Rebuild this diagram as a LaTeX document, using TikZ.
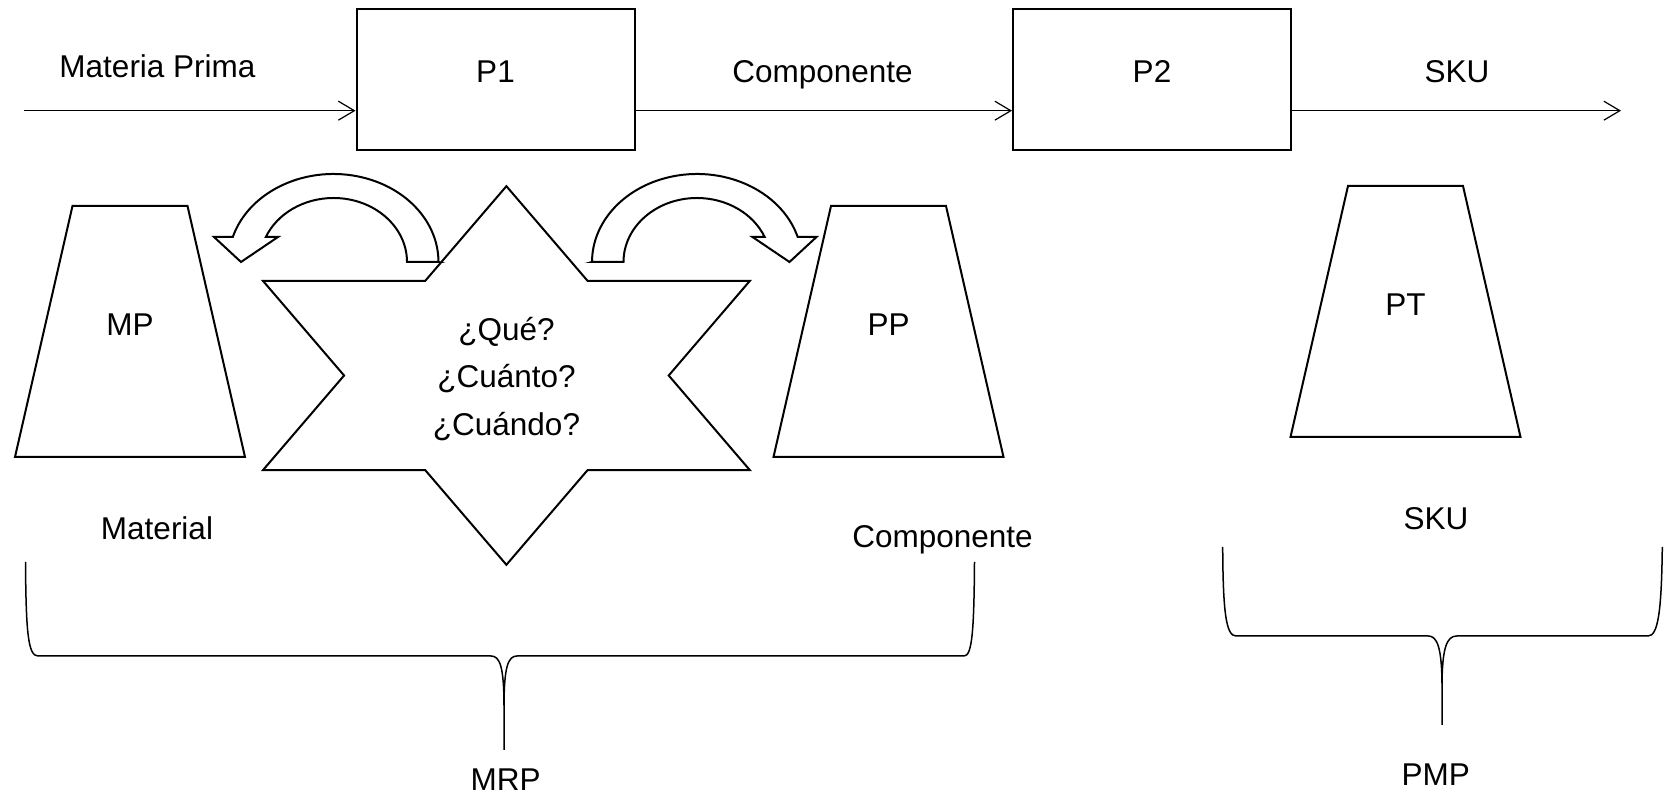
\documentclass[tikz,border=0pt]{standalone}
\usepackage{fontspec}
\setmainfont{Liberation Sans}
\usepackage{tikz}
\usetikzlibrary{arrows.meta, positioning}

\tikzset{
  proc/.style={draw, line width=2pt, minimum width=278pt, minimum height=141pt, text height=22.5pt, text depth=17pt},
  flow/.style={-{Straight Barb[length=16pt, width=19pt]}, line width=1.2pt},
  silo/.style={draw, line width=2pt},
  turn/.style={draw, line width=2pt, fill=white},
  brace/.style={draw, line width=1.5pt},
}

\begin{document}
\begin{tikzpicture}[x=1pt, y=1pt, font=\fontsize{31.5pt}{38pt}\selectfont,
  every node/.style={text height=22.5pt, text depth=0pt, inner sep=0pt}]

\fill[white] (0,0) rectangle (1668,797);
\useasboundingbox (0,0) rectangle (1668,797);

% nodes
\node[proc] (P1) at (495.5,717) {P1};
\node[proc] (P2) at (1152,717) {P2};
\coordinate (src) at (24,686.3);
\coordinate (dst) at (1621,686.3);

\node (mat) at (157.5,731) {Materia Prima};
\node (comp) at (822.5,726) {Componente};
\node (sku) at (1457,726) {SKU};

% arrows
\draw[flow] (src) -- (src -| P1.west);
\draw[flow] (src -| P1.east) -- (src -| P2.west);
\draw[flow] (src -| P2.east) -- (dst);

% stocks
\foreach \cx/\ty/\name in {130/591/MP, 888.5/591/PP, 1405.5/611/PT}{
  \draw[silo] (\cx-115,\ty-251) -- (\cx-57.5,\ty) -- (\cx+57.5,\ty) -- (\cx+115,\ty-251) -- cycle;
  \node (\name) at (\cx,\ty-118) {\name};
}
\node (matl) at (157,269) {Material};
\node (compl) at (942.5,261) {Componente};
\node (skul) at (1436,278.5) {SKU};

% star
\draw[silo, shift={(506.4,421.5)}, xscale=1.485]
  (90:189.3) -- (120:109.3) -- (150:189.3) -- (180:109.3) -- (210:189.3) -- (240:109.3)
  -- (270:189.3) -- (300:109.3) -- (330:189.3) -- (0:109.3) -- (30:189.3) -- (60:109.3) -- cycle;
\node (q1) at (506.5,467.3) {¿Qué?};
\node (q2) at (506.5,421) {¿Cuánto?};
\node (q3) at (506.5,372.8) {¿Cuándo?};

% curved arrows
\foreach \cx/\s in {333.5/1, 697/-1}
  \draw[turn, shift={(\cx,535)}, xscale=\s] (105,0) -- (73.5,0)
    arc[start angle=0, end angle=157, x radius=73.5, y radius=64]
    -- (-55.5,25) -- (-92.5,0) -- (-119.5,25) -- (-100.7,25)
    arc[start angle=163.5, end angle=0, x radius=105, y radius=88] -- cycle;

% braces
\coordinate (mrp tip) at (504,47);
\draw[brace] (mrp tip) -- (504,90) .. controls (504,130) and (500,141) .. (491,141) -- (38,141)
  .. controls (28,141) and (26,165) .. (25.5,235)
  (504,90) .. controls (504,130) and (508,141) .. (517,141) -- (964,141)
  .. controls (972,141) and (974,165) .. (974.5,235);
\node (mrp) at (505.7,18) {MRP};

\coordinate (pmp tip) at (1442,72);
\draw[brace] (pmp tip) -- (1442,110) .. controls (1442,150) and (1437,161) .. (1428.3,161) -- (1236,161)
  .. controls (1226,161) and (1223,185) .. (1222.7,250)
  (1442,110) .. controls (1442,150) and (1447,161) .. (1456.7,161) -- (1648,161)
  .. controls (1658,161) and (1661.5,185) .. (1662.3,250);
\node (pmp) at (1435.8,22.5) {PMP};

\end{tikzpicture}
\end{document}
